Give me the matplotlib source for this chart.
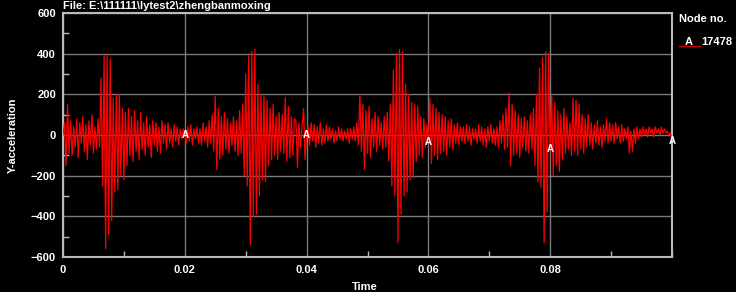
import numpy as np
import matplotlib
matplotlib.use('Agg')
import matplotlib.pyplot as plt
from matplotlib.ticker import MultipleLocator

# curve for node 17478, Y-acceleration, sampled evenly from t=0 to t=0.1
node_id = '17478'
y_acc = [
    0, 60, -150, 150, -90, 70, -100, 40, -60, 80, -110, 60, -40, 90, -80, 50, -120, 70, -50, 100,
    -90, 40, -70, 80, -60, 280, -250, 390, -560, 400, -490, 375, -420, 180, -280, 200, -270, 200, -200, 130,
    -220, 110, -150, 130, -100, 90, -130, 120, -80, 70, -120, 110, -70, 60, -100, 90, -60, 50, -110, 70,
    -50, 60, -80, 40, -90, 70, -40, 50, -70, 60, -40, 30, -60, 50, -30, 40, -50, 30, -20, 30,
    0, -40, 40, -30, 50, -50, 30, -20, 40, -40, 30, -50, 60, -30, 40, -60, 70, -40, 100, -80,
    190, -170, 130, -120, 90, -100, 110, -70, 80, -90, 60, -50, 90, -80, 70, -100, 120, -90, 150, -200,
    300, -250, 390, -540, 410, -400, 420, -390, 250, -300, 200, -220, 190, -230, 170, -150, 130, -120, 150, -100,
    90, -120, 110, -80, 100, -90, 185, -130, 140, -110, 90, -100, 80, 70, -160, 60, -60, 40, 130, -120,
    0, 40, -50, 60, -30, 50, -60, 40, -40, 60, -50, 30, -40, 50, -30, 40, -20, 30, -40, 20,
    -30, 40, -20, 30, -30, 20, -20, 30, -40, 30, -20, 40, -30, 60, -50, 200, -80, 150, -170, 120,
    -90, 140, -110, 80, -60, 110, -80, 90, -50, 60, -70, 90, -60, 110, -130, 150, -250, 320, -300, 400,
    -530, 420, -390, 410, -300, 250, -280, 200, -220, 160, -210, 150, -130, 140, -100, 90, -110, 80, -60, 50,
    -35, 180, -140, 150, -100, 130, -120, 110, -90, 100, -80, 90, -100, 70, -60, 80, -70, 50, -40, 60,
    -50, 40, -30, 40, -40, 50, -30, 40, -50, 30, -20, 30, -40, 50, -30, 40, -50, 30, -60, 40,
    -30, 50, -40, 30, -50, 40, -60, 70, -40, 100, -70, 130, -60, 206, -150, 150, -100, 120, -90, 100,
    -110, 80, -60, 90, -80, 70, -90, 100, -70, 130, -150, 200, -230, 330, -260, 380, -530, 410, -380, 400,
    -70, 190, -200, 160, -150, 120, -180, 100, -120, 130, -90, 90, -70, 60, -100, 180, -80, 170, -100, 150,
    -70, 100, -90, 80, -60, 100, -50, 60, -70, 50, -40, 70, -50, 40, -60, 50, -30, 80, -40, 60,
    -30, 50, -40, 60, -20, 40, -40, 50, -30, 30, -20, 40, -90, 20, -80, 30, -40, 40, -20, 30,
    -10, 40, 0, 30, -10, 40, 10, 30, -10, 40, 10, 30, 0, 40, 10, 30, 10, 20, 0, 10,
    -30,
]
t_end = 0.1
label_times = [0.0, 0.02, 0.04, 0.06, 0.08, 0.1]

t = np.linspace(0, t_end, len(y_acc))
y = np.array(y_acc, dtype=float)

plt.rcParams['font.family'] = ['Liberation Sans', 'DejaVu Sans']
plt.rcParams['font.weight'] = 'bold'
fs = 8

fig = plt.figure(figsize=(7.36, 2.92), dpi=100, facecolor='black')
ax = fig.add_axes([63/736, 1-257/292, (672-63)/736, (257-13)/292], facecolor='black')

ax.plot(t, y, color='#ff0000', lw=0.9, zorder=3)

# curve labels "A" every fifth of the data
for tl in label_times[1:]:
    i = int(np.argmin(np.abs(t - tl)))
    ax.text(t[i], y[i], 'A', color='white', fontsize=7, fontweight='bold',
            ha='center', va='center', zorder=5, clip_on=False)

ax.set_xlim(0, 0.1)
ax.set_ylim(-600, 600)
ax.xaxis.set_minor_locator(MultipleLocator(0.01))
ax.yaxis.set_major_locator(MultipleLocator(200))
ax.yaxis.set_minor_locator(MultipleLocator(100))
ax.set_xticks([0, 0.02, 0.04, 0.06, 0.08])
ax.set_xticklabels(['0', '0.02', '0.04', '0.06', '0.08'])
ax.grid(True, which='major', color='#7a7a7a', lw=1, zorder=1)
ax.tick_params(which='both', direction='in', colors='#bbbbbb', labelcolor='white',
               labelsize=fs, width=1)
ax.tick_params(which='major', length=0)
ax.tick_params(which='minor', length=4)
ax.tick_params(axis='x', pad=6)
ax.tick_params(axis='y', pad=5)
for s in ax.spines.values():
    s.set_color('#bbbbbb')
    s.set_linewidth(1.5)
for lab in ax.get_xticklabels() + ax.get_yticklabels():
    lab.set_fontweight('bold')

fig.text(63/736, 1-6/292, 'File: E:\\111111\\lytest2\\zhengbanmoxing', color='white',
         fontsize=fs, fontweight='bold', ha='left', va='center')
fig.text(13/736, 1-135/292, 'Y-acceleration', color='white', fontsize=fs,
         fontweight='bold', rotation=90, ha='center', va='center')
fig.text(365/736, 1-287/292, 'Time', color='white', fontsize=fs,
         fontweight='bold', ha='center', va='center')

# legend block on the right
fig.text(679/736, 1-19/292, 'Node no.', color='white', fontsize=fs,
         fontweight='bold', ha='left', va='center')
fig.text(689/736, 1-42/292, 'A', color='white', fontsize=fs,
         fontweight='bold', ha='center', va='center')
fig.text(701/736, 1-42/292, node_id, color='white', fontsize=fs,
         fontweight='bold', ha='left', va='center')
fig.add_artist(plt.Line2D([679/736, 700/736], [1-46/292, 1-46/292], color='#cc0000', lw=1))

fig.savefig('out.png', dpi=100, facecolor='black')
